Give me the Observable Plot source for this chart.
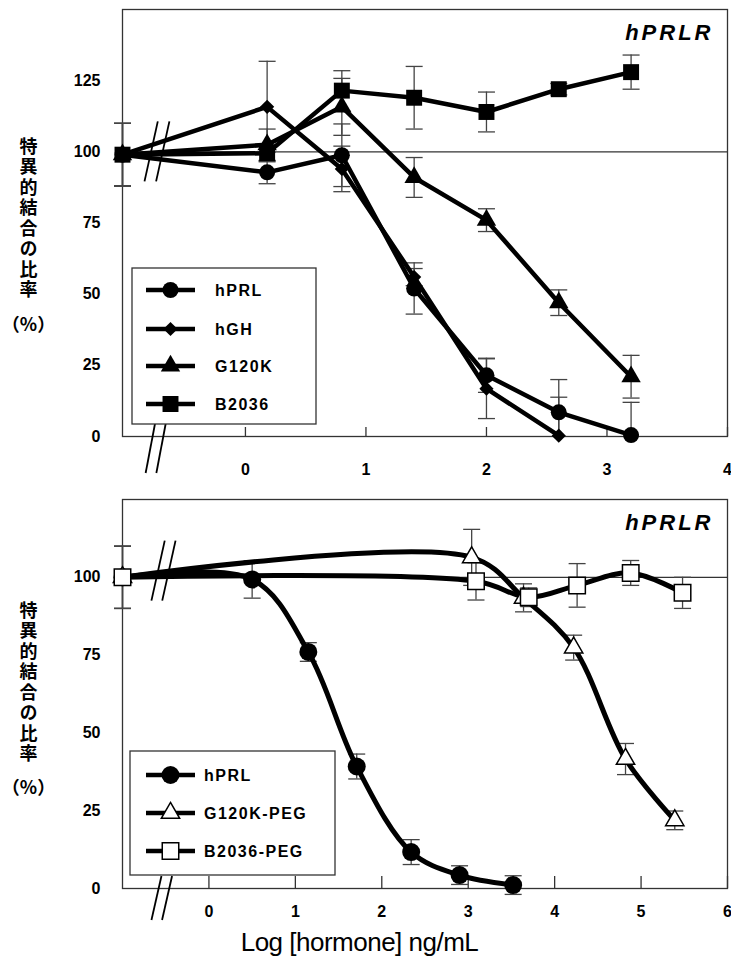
<!DOCTYPE html>
<html><head><meta charset="utf-8">
<script src="https://cdn.jsdelivr.net/npm/d3@7"></script>
<script src="https://cdn.jsdelivr.net/npm/@observablehq/plot@0.6"></script>
<style>
body{margin:0;background:#fff;font-family:"Liberation Sans",Arial,sans-serif;}
#wrap{width:731px;position:relative;}
svg{display:block;}
#xtitle{width:731px;text-align:center;font-family:"Liberation Sans",Arial,sans-serif;font-size:26px;line-height:34px;height:49px;letter-spacing:-0.5px;box-sizing:border-box;padding-right:12px;color:#000;}
</style></head><body>
<div id="wrap"></div>
<div id="xtitle">Log [hormone] ng/mL</div>
<script>
// ---------- text ----------
const yLabelChars = "特異的結合の比率";
const yLabelUnit = "（%）";
const panelTag = "hPRLR";

// ---------- top panel data ----------
const topCtrlX = -1.02;                 // control (no hormone), drawn at the broken axis start
const topX = [0.18, 0.8, 1.4, 2.0, 2.6, 3.2];
const topTicksX = [0, 1, 2, 3, 4];
const topTicksY = [0, 25, 50, 75, 100, 125];
const topSeriesNames = ["hPRL", "hGH", "G120K", "B2036"];
const hPRL_top  = [99, 92.8, 98.8, 52, 21.5, 8.5, 0.5];
const hPRL_topE = [11, 4, 11, 9, 6, 11.5, 11.5];
const hGH_top   = [99, 115.8, 94, 56, 16.8, 0.3];
const hGH_topE  = [11, 16, 8, 3, 10.5, 13.5];
const G120K_top  = [99, 102.5, 115.8, 91, 76, 47, 21];
const G120K_topE = [11, 5.5, 10, 7, 4, 4.5, 7.5];
const B2036_top  = [99, 99.5, 121.5, 119, 114, 122, 128];
const B2036_topE = [11, 3, 7, 11, 7, 2, 6];

// ---------- bottom panel data ----------
const botCtrlX = -1;
const botTicksX = [0, 1, 2, 3, 4, 5, 6];
const botTicksY = [0, 25, 50, 75, 100];
const botSeriesNames = ["hPRL", "G120K-PEG", "B2036-PEG"];
const hPRL_botX = [0.5, 1.15, 1.71, 2.34, 2.9, 3.52];
const hPRL_bot  = [100, 99.3, 76, 39.2, 11.7, 4.3, 1.1];
const hPRL_botE = [10, 6, 3, 4, 4, 3, 3];
const G120KPEG_botX = [3.04, 3.64, 4.22, 4.82, 5.39];
const G120KPEG_bot  = [100, 106.4, 93.4, 77.4, 41.6, 21.9];
const G120KPEG_botE = [10, 9, 4.5, 4, 5, 3];
const B2036PEG_botX = [3.09, 3.7, 4.26, 4.88, 5.48];
const B2036PEG_bot  = [100, 98.7, 93.6, 97.4, 101.4, 95];
const B2036PEG_botE = [10, 6, 3, 7, 4, 5];

// ---------- helpers ----------
function rows(series, xs, ys, es) {
  return ys.map((y, i) => ({series, x: xs[i], y, e: es[i]}));
}
const capSym = {draw(ctx, size) { const w = Math.sqrt(size / Math.PI); ctx.moveTo(-w, 0); ctx.lineTo(w, 0); }};
const d3Sym = {circle: d3.symbolCircle, diamond2: d3.symbolDiamond2, triangle: d3.symbolTriangle, square: d3.symbolSquare};

const topStyle = {
  hPRL:  {symbol: "circle",   r: 8,   fill: "#000", stroke: "none"},
  hGH:   {symbol: "diamond2", r: 6.4, fill: "#000", stroke: "none"},
  G120K: {symbol: "triangle", r: 7.2, fill: "#000", stroke: "none"},
  B2036: {symbol: "square",   r: 9,   fill: "#000", stroke: "none"}
};
const botStyle = {
  "hPRL":      {symbol: "circle",   r: 9,   fill: "#000", stroke: "none"},
  "G120K-PEG": {symbol: "triangle", r: 6.8, fill: "#fff", stroke: "#000"},
  "B2036-PEG": {symbol: "square",   r: 9.3, fill: "#fff", stroke: "#000"}
};

const topTable = [
  ...rows("hPRL",  [topCtrlX, ...topX], hPRL_top, hPRL_topE),
  ...rows("hGH",   [topCtrlX, ...topX], hGH_top, hGH_topE),
  ...rows("G120K", [topCtrlX, ...topX], G120K_top, G120K_topE),
  ...rows("B2036", [topCtrlX, ...topX], B2036_top, B2036_topE)
];
const botTable = [
  ...rows("hPRL",      [botCtrlX, ...hPRL_botX], hPRL_bot, hPRL_botE),
  ...rows("G120K-PEG", [botCtrlX, ...G120KPEG_botX], G120KPEG_bot, G120KPEG_botE),
  ...rows("B2036-PEG", [botCtrlX, ...B2036PEG_botX], B2036PEG_bot, B2036PEG_botE)
];

function panel({table, names, styles, xDomain, yDomain, ticksX, ticksY, height, marginTop, marginBottom, tickLen, xPad, curve, lineW, labelDy, unitDy, clipLow}) {
  const frameH = height - marginTop - marginBottom;
  const lo = d => clipLow ? Math.max(0, d.y - d.e) : d.y - d.e;
  const lowCaps = clipLow ? table.filter(d => d.y - d.e >= 0) : table;
  const marks = [
    Plot.ruleY([100], {stroke: "#333", strokeWidth: 1.2}),
    Plot.frame({stroke: "#333", strokeWidth: 1.3}),
    Plot.tickX(ticksX, {x: d => d, stroke: "#333", strokeWidth: 1.3, insetTop: frameH - tickLen}),
    Plot.axisY({ticks: ticksY, tickSize: 0, tickPadding: 22, fontSize: 16, fontWeight: "bold", label: null, tickFormat: d => String(d)}),
    Plot.axisX({ticks: ticksX, tickSize: 0, tickPadding: xPad, fontSize: 16, fontWeight: "bold", label: null, tickFormat: d => String(d)}),
    Plot.ruleX(table, {x: "x", y1: lo, y2: d => d.y + d.e, stroke: "#444", strokeWidth: 1.3}),
    Plot.dot(table, {x: "x", y: d => d.y + d.e, symbol: capSym, r: 8.5, fill: "none", stroke: "#444", strokeWidth: 1.3}),
    Plot.dot(lowCaps, {x: "x", y: d => d.y - d.e, symbol: capSym, r: 8.5, fill: "none", stroke: "#444", strokeWidth: 1.3}),
    Plot.line(table, {x: "x", y: "y", z: "series", stroke: "#000", strokeWidth: lineW, curve}),
    ...names.map(n => Plot.dot(table.filter(d => d.series === n), {x: "x", y: "y", symbol: styles[n].symbol, r: styles[n].r, fill: styles[n].fill, stroke: styles[n].stroke, strokeWidth: 1.5})),
    Plot.text([panelTag], {text: d => d, frameAnchor: "top-right", dx: -14, dy: 23, fontSize: 22, fontWeight: "bold", fontStyle: "italic", textAnchor: "end", lineAnchor: "middle", fontFamily: "Liberation Sans"}),
    Plot.text([yLabelChars], {text: d => d, frameAnchor: "left", dx: -94, dy: labelDy, fontSize: 18, fontWeight: "bold", textAnchor: "middle", lineAnchor: "middle", fontFamily: "Noto Sans CJK JP"}),
    Plot.text([yLabelUnit], {text: d => d, frameAnchor: "left", dx: -94, dy: unitDy, fontSize: 18, fontWeight: "bold", textAnchor: "middle", lineAnchor: "middle", fontFamily: "Noto Sans CJK JP"})
  ];
  return Plot.plot({
    width: 731, height, marginLeft: 122, marginRight: 4, marginTop, marginBottom,
    x: {domain: xDomain}, y: {domain: yDomain},
    style: {fontFamily: "Liberation Sans", color: "#000", background: "#fff", overflow: "visible"},
    marks
  });
}

function decorate(chart, names, styles, legend, breaks) {
  const svg = d3.select(chart);
  svg.selectAll("text").filter(function() { return this.textContent === panelTag; }).attr("letter-spacing", "3px");
  // vertical (tategaki) y-axis label
  svg.selectAll("text").filter(function() { return this.textContent === yLabelChars; })
    .attr("writing-mode", "vertical-rl").attr("letter-spacing", "2.5px").attr("dy", null)
    .style("writing-mode", "vertical-rl").style("text-orientation", "upright");
  const xs = chart.scale("x"), ys = chart.scale("y");
  const g = svg.append("g").attr("stroke", "#000").attr("stroke-width", 1.8);
  for (const b of breaks) {
    const cx = xs.apply(b.x), cy = b.y != null ? ys.apply(b.y) : ys.apply(0) + b.off;
    const h = b.h, s = b.slant, sep = b.sep;
    for (const o of [-sep / 2, sep / 2]) {
      g.append("line").attr("x1", cx + o - s / 2).attr("y1", cy + h).attr("x2", cx + o + s / 2).attr("y2", cy - h);
    }
  }
  const L = svg.append("g").attr("text-anchor", "start");
  L.append("rect").attr("x", legend.x).attr("y", legend.y).attr("width", legend.w).attr("height", legend.h)
    .attr("fill", "#fff").attr("stroke", "#333").attr("stroke-width", 1.3);
  names.forEach((n, i) => {
    const y = legend.rows[i], st = styles[n];
    L.append("line").attr("x1", legend.lx1).attr("x2", legend.lx2).attr("y1", y).attr("y2", y).attr("stroke", "#000").attr("stroke-width", 4.5);
    L.append("path").attr("d", d3.symbol(d3Sym[st.symbol], Math.PI * st.r * st.r)())
      .attr("transform", `translate(${(legend.lx1 + legend.lx2) / 2},${y})`)
      .attr("fill", st.fill).attr("stroke", st.stroke).attr("stroke-width", 1.5);
    L.append("text").attr("x", legend.tx).attr("y", y).attr("dy", "0.35em").attr("font-size", 16).attr("font-weight", "bold")
      .attr("text-anchor", "start").attr("letter-spacing", "1.5px").attr("font-family", "Liberation Sans").text(n);
  });
}

const topChart = panel({table: topTable, names: topSeriesNames, styles: topStyle, xDomain: [topCtrlX, 4], yDomain: [0, 150],
  ticksX: topTicksX, ticksY: topTicksY, height: 488, marginTop: 9, marginBottom: 52, tickLen: 9, xPad: 27, curve: "linear", lineW: 4.5, labelDy: -10, unitDy: 102.5, clipLow: true});
const botChart = panel({table: botTable, names: botSeriesNames, styles: botStyle, xDomain: [botCtrlX, 6], yDomain: [0, 125],
  ticksX: botTicksX, ticksY: botTicksY, height: 437, marginTop: 11, marginBottom: 37, tickLen: 12, xPad: 17, curve: "catmull-rom", lineW: 5, labelDy: -17, unitDy: 94.5, clipLow: false});

decorate(topChart, topSeriesNames, topStyle,
  {x: 132, y: 268, w: 184, h: 156, rows: [290, 329, 366, 404], lx1: 146, lx2: 195, tx: 215},
  [{x: -0.73, y: 100, h: 30, slant: 13.3, sep: 11.6}, {x: -0.74, off: 12, h: 25, slant: 9.5, sep: 10.7}]);
decorate(botChart, botSeriesNames, botStyle,
  {x: 130, y: 263, w: 205, h: 124, rows: [287, 325, 363], lx1: 146, lx2: 195, tx: 204},
  [{x: -0.52, y: 102, h: 30, slant: 13.3, sep: 10.8}, {x: -0.54, off: 10, h: 22, slant: 10, sep: 10.6}]);

document.getElementById("wrap").append(topChart, botChart);
</script>
</body></html>
